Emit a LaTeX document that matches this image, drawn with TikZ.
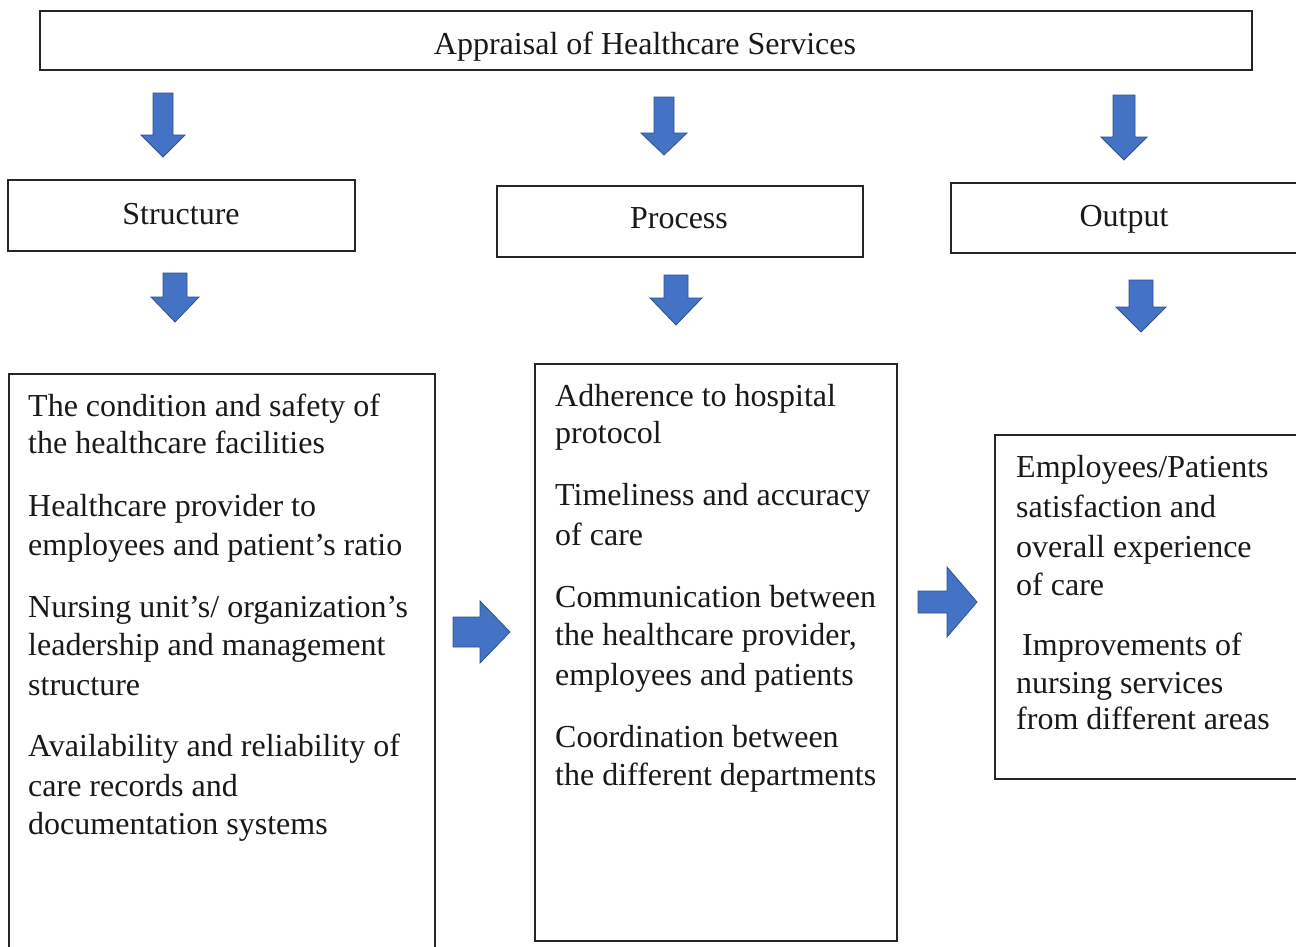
\documentclass[tikz,border=0pt]{standalone}
\usepackage{fontspec}
\setmainfont{Liberation Serif}
\definecolor{arrowblue}{HTML}{4472C4}
\definecolor{arrowedge}{HTML}{2F528F}
\definecolor{boxline}{HTML}{262626}
\newcommand\myDownArrow[6]{% cx, top, headstart, tip, shafthalf, headhalf
  \draw[blockarrow] (#1-#5,#2) -- (#1+#5,#2) -- (#1+#5,#3) -- (#1+#6,#3) -- (#1,#4) -- (#1-#6,#3) -- (#1-#5,#3) -- cycle;}
\newcommand\myRightArrow[6]{% left, cy, headstart, tip, shafthalf, headhalf
  \draw[blockarrow] (#1,#2-#5) -- (#3,#2-#5) -- (#3,#2-#6) -- (#4,#2) -- (#3,#2+#6) -- (#3,#2+#5) -- (#1,#2+#5) -- cycle;}
\tikzset{
  box/.style={draw=boxline, line width=1.7pt, fill=white, inner sep=0pt, outer sep=0pt, anchor=north west},
  txt/.style={anchor=base west, inner sep=0pt, font=\fontsize{32}{38}\selectfont, text=black!90},
  head/.style={anchor=base, inner sep=0pt, font=\fontsize{32}{38}\selectfont, text=black!90},
  blockarrow/.style={fill=arrowblue, draw=arrowedge, line width=0.8pt, line join=miter}
}
\begin{document}
\begin{tikzpicture}[x=1pt,y=-1pt]
\useasboundingbox (0,0) rectangle (1296,946);
\clip (0,0) rectangle (1296,946);
\fill[white] (0,0) rectangle (1296,946);

% header boxes
\node[box, minimum width=1212pt, minimum height=59pt] (top) at (40,11) {};
\node[box, minimum width=347pt, minimum height=71pt] (structure) at (8,180) {};
\node[box, minimum width=366pt, minimum height=71pt] (process) at (497,186) {};
\node[box, minimum width=380pt, minimum height=70pt] (output) at (951,183) {};

\node[head] (ttop) at (645,54) {Appraisal of Healthcare Services};
\node[head] (tstructure) at (181,224) {Structure};
\node[head] (tprocess) at (679,228) {Process};
\node[head] (toutput) at (1124,226) {Output};

% content boxes
\node[box, minimum width=426pt, minimum height=600pt] (sbox) at (9,374) {};
\node[box, minimum width=362pt, minimum height=577pt] (pbox) at (535,364) {};
\node[box, minimum width=330pt, minimum height=344pt] (obox) at (995,435) {};

% structure text
\node[txt] (s1) at (28,416) {The condition and safety of};
\node[txt] (s2) at (28,453) {the healthcare facilities};
\node[txt] (s3) at (28,516) {Healthcare provider to};
\node[txt] (s4) at (28,555) {employees and patient’s ratio};
\node[txt] (s5) at (28,617) {Nursing unit’s/ organization’s};
\node[txt] (s6) at (28,655) {leadership and management};
\node[txt] (s7) at (28,695) {structure};
\node[txt] (s8) at (28,756) {Availability and reliability of};
\node[txt] (s9) at (28,796) {care records and};
\node[txt] (s10) at (28,834) {documentation systems};

% process text
\node[txt] (p1) at (555,406) {Adherence to hospital};
\node[txt] (p2) at (555,443) {protocol};
\node[txt] (p3) at (555,505) {Timeliness and accuracy};
\node[txt] (p4) at (555,545) {of care};
\node[txt] (p5) at (555,607) {Communication between};
\node[txt] (p6) at (555,645) {the healthcare provider,};
\node[txt] (p7) at (555,685) {employees and patients};
\node[txt] (p8) at (555,747) {Coordination between};
\node[txt] (p9) at (555,785) {the different departments};

% output text
\node[txt] (o1) at (1016,477) {Employees/Patients};
\node[txt] (o2) at (1016,517) {satisfaction and};
\node[txt] (o3) at (1016,557) {overall experience};
\node[txt] (o4) at (1016,595) {of care};
\node[txt] (o5) at (1022,655) {Improvements of};
\node[txt] (o6) at (1016,693) {nursing services};
\node[txt] (o7) at (1016,729) {from different areas};

% block arrows
\myDownArrow{163}{93}{135}{157}{10}{22}
\myDownArrow{664}{97}{133}{155}{10}{23}
\myDownArrow{1124}{95}{137}{160}{11}{23}
\myDownArrow{175}{273}{297}{322}{12}{24}
\myDownArrow{676}{275}{298}{325}{12}{26}
\myDownArrow{1141}{280}{307}{332}{12}{25}
\myRightArrow{453}{632}{480}{510}{15}{31}
\myRightArrow{918}{602}{947}{977}{11}{35}
\end{tikzpicture}
\end{document}
